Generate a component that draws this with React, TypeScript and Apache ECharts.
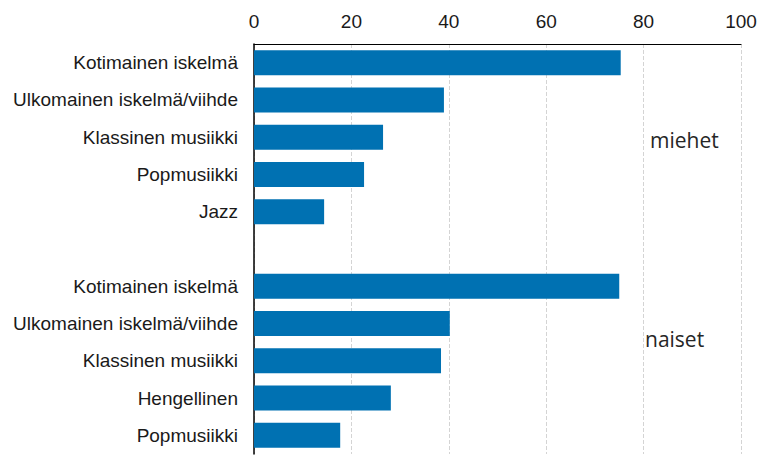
import React, { useEffect, useRef } from "react";
import * as echarts from "echarts";

const categories = [
  "Kotimainen iskelmä",
  "Ulkomainen iskelmä/viihde",
  "Klassinen musiikki",
  "Popmusiikki",
  "Jazz",
  "",
  "Kotimainen iskelmä",
  "Ulkomainen iskelmä/viihde",
  "Klassinen musiikki",
  "Hengellinen",
  "Popmusiikki",
];
const values: (number | null)[] = [75.3, 39.0, 26.5, 22.6, 14.4, null, 75.0, 40.2, 38.4, 28.1, 17.7];
const xTicks = { min: 0, max: 100, interval: 20 };
const groupLabels = ["miehet", "naiset"];

export default function App() {
  const ref = useRef<HTMLDivElement>(null);
  useEffect(() => {
    if (!ref.current) return;
    const chart = echarts.init(ref.current, null, { renderer: "svg" });
    chart.setOption({
      animation: false,
      backgroundColor: "#ffffff",
      grid: { left: 254, right: 20, top: 44, bottom: 1, containLabel: false },
      xAxis: {
        type: "value",
        position: "top",
        min: xTicks.min,
        max: xTicks.max,
        interval: xTicks.interval,
        axisLine: { show: true, lineStyle: { color: "#000000", width: 1 } },
        axisTick: { show: false },
        axisLabel: {
          fontSize: 19,
          color: "#1a1a1a",
          fontFamily: "Liberation Sans, Arial, sans-serif",
          margin: 13,
        },
        splitLine: { show: true, lineStyle: { color: "#d4d4d4", type: "dashed", width: 1 } },
      },
      yAxis: {
        type: "category",
        inverse: true,
        data: categories,
        axisLine: { show: true, lineStyle: { color: "#000000", width: 1.5 } },
        axisTick: { show: false },
        axisLabel: {
          fontSize: 19,
          color: "#1a1a1a",
          fontFamily: "Liberation Sans, Arial, sans-serif",
          margin: 16,
          interval: 0,
        },
        splitLine: { show: false },
      },
      series: [
        {
          type: "bar",
          data: values,
          barWidth: 25,
          itemStyle: { color: "#0071b2" },
        },
      ],
      graphic: [
        {
          type: "text",
          left: 650,
          top: 129,
          style: { text: groupLabels[0], fontSize: 21, fill: "#262626", fontFamily: "Open Sans, Noto Sans, sans-serif" },
        },
        {
          type: "text",
          left: 645,
          top: 328,
          style: { text: groupLabels[1], fontSize: 21, fill: "#262626", fontFamily: "Open Sans, Noto Sans, sans-serif" },
        },
      ],
    });
    return () => chart.dispose();
  }, []);
  return (
    <div
      ref={ref}
      style={{ position: "fixed", left: 0, top: 0, width: 761, height: 455 }}
    />
  );
}
